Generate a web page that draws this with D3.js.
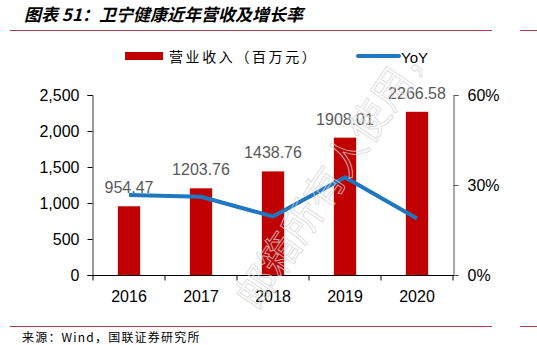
<!DOCTYPE html>
<html lang="zh">
<head>
<meta charset="UTF-8">
<title>卫宁健康近年营收及增长率</title>
<script src="https://d3js.org/d3.v7.min.js"></script>
<style>
    body { margin: 0; background: #fff; }
    text { font-family: "Liberation Sans", Arial, sans-serif; }
    .cjk { font-family: "Noto Sans CJK SC", sans-serif; }
</style>
</head>
<body>
<svg id="viz"></svg>
<script>
    var years = ["2016", "2017", "2018", "2019", "2020"];
    var revenue = [954.47, 1203.76, 1438.76, 1908.01, 2266.58];
    var yoy = [0.267, 0.261, 0.195, 0.326, 0.188];
    var leftTicks = [0, 500, 1000, 1500, 2000, 2500];
    var rightTicks = [0, 0.3, 0.6];

    var width = 537, height = 345;
    var red = "#C00000", blue = "#1F77C0", rule = "#B23A4E";

    var svg = d3.select("#viz")
        .attr("width", width)
        .attr("height", height);

    // title and rules
    svg.append("text")
        .attr("class", "cjk")
        .attr("x", 24).attr("y", 21)
        .attr("font-size", 17).attr("font-weight", "bold").attr("font-style", "italic")
        .text("图表 51：卫宁健康近年营收及增长率");
    svg.append("line").attr("x1", 10).attr("x2", 492).attr("y1", 30.5).attr("y2", 30.5)
        .attr("stroke", rule).attr("stroke-width", 1);
    svg.append("line").attr("x1", 520).attr("x2", 537).attr("y1", 30.5).attr("y2", 30.5)
        .attr("stroke", rule).attr("stroke-width", 1);
    svg.append("line").attr("x1", 10).attr("x2", 492).attr("y1", 326.5).attr("y2", 326.5)
        .attr("stroke", rule).attr("stroke-width", 1);
    svg.append("line").attr("x1", 520).attr("x2", 537).attr("y1", 326.5).attr("y2", 326.5)
        .attr("stroke", rule).attr("stroke-width", 1);
    svg.append("text")
        .attr("class", "cjk")
        .attr("x", 22).attr("y", 342)
        .attr("font-size", 12)
        .attr("letter-spacing", 1.2)
        .text("来源：Wind，国联证券研究所");

    // scales
    var x = d3.scaleBand().domain(years).range([93, 453]).paddingInner(0.69).paddingOuter(0.345);
    var y = d3.scaleLinear().domain([0, 2500]).range([275, 95]);
    var y2 = d3.scaleLinear().domain([0, 0.6]).range([275, 95]);

    // bars
    svg.selectAll("rect.bar")
        .data(revenue)
        .enter()
        .append("rect")
        .attr("class", "bar")
        .attr("x", function (d, i) { return x(years[i]); })
        .attr("width", x.bandwidth())
        .attr("y", function (d) { return y(d); })
        .attr("height", function (d) { return y(0) - y(d); })
        .attr("fill", red);

    // axes
    var leftAxis = d3.axisLeft(y).tickValues(leftTicks).tickSize(5).tickPadding(8)
        .tickFormat(d3.format(","));
    var gl = svg.append("g").attr("transform", "translate(92.5,0)").call(leftAxis);
    gl.select(".domain").attr("stroke", "#333");
    gl.selectAll("text").attr("font-size", 16).attr("fill", "#000");

    var rightAxis = d3.axisRight(y2).tickValues(rightTicks).tickSize(5).tickPadding(9)
        .tickFormat(d3.format(".0%"));
    var gr = svg.append("g").attr("transform", "translate(453.5,0)").call(rightAxis);
    gr.select(".domain").attr("stroke", "#555");
    gr.selectAll("line").attr("stroke", "#555");
    gr.selectAll("text").attr("font-size", 16).attr("fill", "#000");

    // x axis, ticks between categories
    var step = x.step();
    var gx = svg.append("g").attr("transform", "translate(0,275.5)");
    gx.append("line").attr("x1", 92).attr("x2", 454).attr("stroke", "#000").attr("stroke-width", 1.2);
    gx.selectAll("line.tk")
        .data(d3.range(years.length + 1))
        .enter()
        .append("line")
        .attr("class", "tk")
        .attr("x1", function (i) { return 93 + i * step; })
        .attr("x2", function (i) { return 93 + i * step; })
        .attr("y1", 0).attr("y2", 5)
        .attr("stroke", "#000");
    gx.selectAll("text")
        .data(years)
        .enter()
        .append("text")
        .attr("x", function (d) { return x(d) + x.bandwidth() / 2; })
        .attr("y", 26)
        .attr("text-anchor", "middle")
        .attr("font-size", 16)
        .text(function (d) { return d; });

    // yoy line
    var line = d3.line()
        .x(function (d, i) { return x(years[i]) + x.bandwidth() / 2; })
        .y(function (d) { return y2(d); });
    svg.append("path")
        .datum(yoy)
        .attr("d", line)
        .attr("fill", "none")
        .attr("stroke", blue)
        .attr("stroke-width", 4)
        .attr("stroke-linejoin", "round");

    // data labels
    svg.selectAll("text.lbl")
        .data(revenue)
        .enter()
        .append("text")
        .attr("class", "lbl")
        .attr("x", function (d, i) { return x(years[i]) + x.bandwidth() / 2; })
        .attr("y", function (d) { return y(d) - 13; })
        .attr("text-anchor", "middle")
        .attr("font-size", 16)
        .attr("fill", "#595959")
        .text(function (d) { return d.toFixed(2); });

    // legend
    svg.append("rect").attr("x", 125).attr("y", 52).attr("width", 38).attr("height", 8).attr("fill", red);
    svg.append("text").attr("class", "cjk").attr("x", 169).attr("y", 62)
        .attr("font-size", 14).attr("letter-spacing", 2.6).text("营业收入（百万元）");
    svg.append("line").attr("x1", 358).attr("x2", 399).attr("y1", 56).attr("y2", 56)
        .attr("stroke", blue).attr("stroke-width", 4).attr("stroke-linecap", "round");
    svg.append("text").attr("x", 401).attr("y", 63)
        .attr("font-size", 15).text("YoY");

    // watermark
    svg.append("text")
        .attr("class", "cjk")
        .attr("transform", "translate(258,312) rotate(-56)")
        .attr("font-size", 40)
        .attr("fill", "none")
        .attr("stroke", "#d6d6d6")
        .attr("stroke-width", 1)
        .attr("opacity", 0.75)
        .text("邮箱所有人使用，");
</script>
</body>
</html>
